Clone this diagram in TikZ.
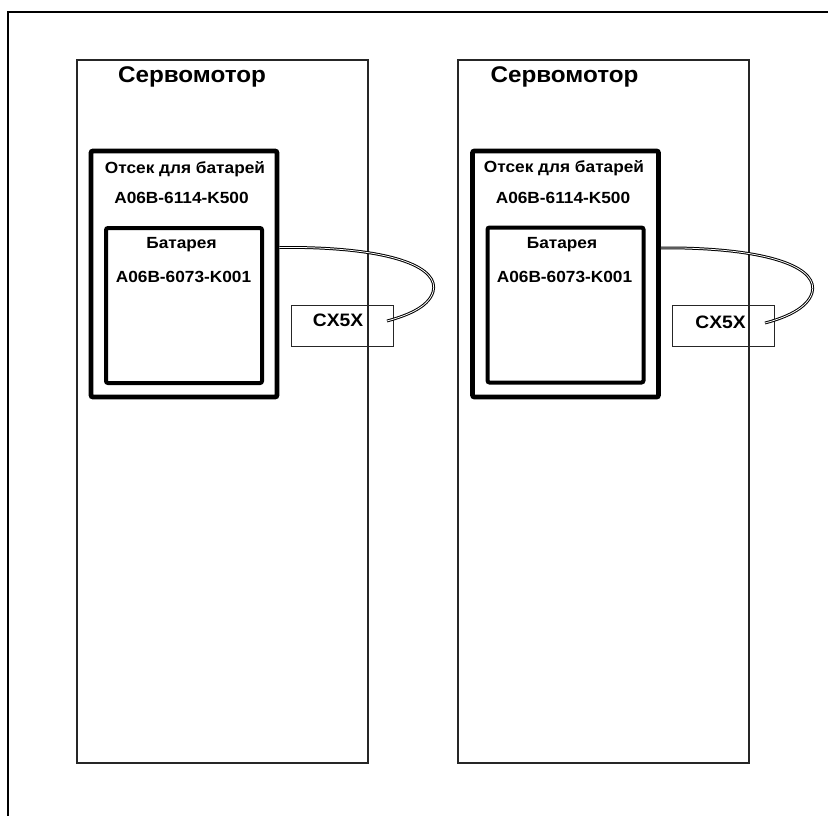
\documentclass[tikz,border=0pt]{standalone}
\usepackage{fontspec}
\setmainfont{Liberation Sans}[FakeStretch=1.07]
\begin{document}
\begin{tikzpicture}[x=0.75pt,y=-0.75pt,
  servobox/.style={draw=black!85,line width=0.9pt,minimum width=218.25pt,minimum height=527.25pt,inner sep=0pt},
  compbox/.style={draw=black,line width=3.6pt,rounded corners=1.5pt,minimum width=139.5pt,minimum height=184.5pt,inner sep=0pt},
  battbox/.style={draw=black,line width=3pt,rounded corners=1.5pt,minimum width=117pt,minimum height=116.25pt,inner sep=0pt},
  connbox/.style={draw=black!85,line width=0.7pt,minimum width=76.5pt,minimum height=30.75pt,inner sep=0pt},
  bigtext/.style={font=\bfseries\fontsize{17}{20}\selectfont,inner sep=0pt},
  smalltext/.style={font=\bfseries\fontsize{12.1}{14}\selectfont,inner sep=0pt},
  conntext/.style={font=\bfseries\fontsize{13.5}{16}\selectfont,inner sep=0pt},
  cable/.style={draw=black,line width=0.75pt,double=white,double distance=0.6pt},
  frame/.style={draw=black,line width=1.6pt}]
\useasboundingbox (0,0) rectangle (828,815);
\clip (0,0) rectangle (828,815);
\draw[frame] (8,840) -- (8,12) -- (850,12);

% left servomotor
\node[servobox] (s1) at (222.5,411.5) {};
\node[compbox] (c1) at (184,274) {};
\node[battbox] (b1) at (184,305.5) {};
\node[connbox] (x1) at (342,325.5) {};
\node[bigtext] (t1) at (192,77) {Сервомотор};
\node[smalltext] (o1) at (185,169) {Отсек для батарей};
\node[smalltext] (p1) at (181.5,198) {A06B-6114-K500};
\node[smalltext] (q1) at (181.5,245) {Батарея};
\node[smalltext] (r1) at (183.5,277) {A06B-6073-K001};
\node[conntext] (k1) at (338,320) {CX5X};
\coordinate (a1) at (c1.east |- 0,247.5);
\coordinate (e1) at (387,321);
\draw[cable] (a1) -- (300,247.5) .. controls (395,249) and (440,268) .. (433,292)
  .. controls (428,308) and (405,316) .. (e1);

% right servomotor
\node[servobox] (s2) at (603.5,411.5) {};
\node[compbox] (c2) at (565.5,274) {};
\node[battbox] (b2) at (565.5,305) {};
\node[connbox] (x2) at (723,325.5) {};
\node[bigtext] (t2) at (564.5,77) {Сервомотор};
\node[smalltext] (o2) at (564,168) {Отсек для батарей};
\node[smalltext] (p2) at (563,198) {A06B-6114-K500};
\node[smalltext] (q2) at (562,245) {Батарея};
\node[smalltext] (r2) at (564.5,277) {A06B-6073-K001};
\node[conntext] (k2) at (720.5,322) {CX5X};
\coordinate (a2) at (c2.east |- 0,248);
\coordinate (e2) at (765,323);
\draw[cable] (a2) -- (681,248) .. controls (775,250) and (819,269) .. (812,293)
  .. controls (807,309) and (784,318) .. (e2);
\end{tikzpicture}
\end{document}
